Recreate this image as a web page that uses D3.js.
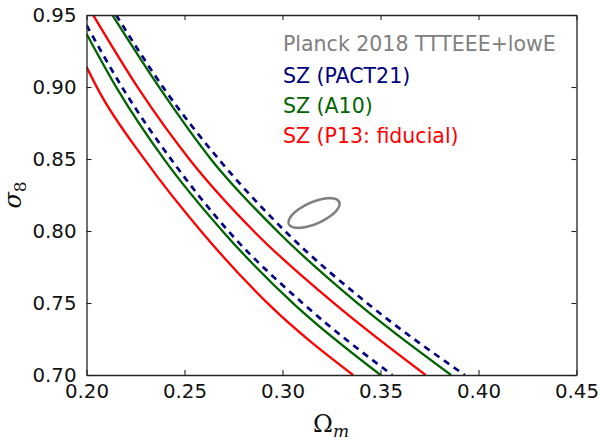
<!DOCTYPE html>
<html><head><meta charset="utf-8">
<script src="https://cdn.jsdelivr.net/npm/d3@7"></script>
<style>body{margin:0;background:#fff}svg{display:block}</style>
</head><body>
<svg id="c" width="600" height="443"></svg>
<script>
// ---- data ----
const xTicks = [0.20, 0.25, 0.30, 0.35, 0.40, 0.45];
const yTicks = [0.70, 0.75, 0.80, 0.85, 0.90, 0.95];
const xDomain = [0.20, 0.45];
const yDomain = [0.70, 0.95];

// [Omega_m, sigma_8]
const p13Low  = [[0.200,0.914],[0.206,0.898],[0.230,0.849],[0.259,0.799],[0.293,0.749],[0.336,0.700]];
const p13High = [[0.2034,0.950],[0.227,0.898],[0.253,0.849],[0.286,0.799],[0.327,0.749],[0.373,0.700]];
const a10Low  = [[0.200,0.937],[0.216,0.898],[0.240,0.849],[0.270,0.799],[0.306,0.749],[0.350,0.700]];
const a10High = [[0.2132,0.950],[0.238,0.898],[0.264,0.849],[0.298,0.799],[0.339,0.749],[0.386,0.700]];
const pactLow = [[0.200,0.943],[0.219,0.898],[0.2436,0.849],[0.273,0.799],[0.311,0.749],[0.356,0.700]];
const pactHigh= [[0.2151,0.950],[0.240,0.898],[0.268,0.849],[0.302,0.799],[0.344,0.749],[0.393,0.700]];

// Planck ellipse: centre, half-extents, correlation
const planckCentre = [0.3161, 0.8125];
const planckHalfExtent = [0.0130, 0.0103];
const planckCorr = 0.62;

const legendLabels = ["Planck 2018 TTTEEE+lowE", "SZ (PACT21)", "SZ (A10)", "SZ (P13: fiducial)"];
const legendColors = ["#808080", "#000080", "#006400", "#ff0000"];

// ---- layout ----
const L = 86.5, R = 576.5, T = 15, B = 375;
const svg = d3.select("#c");
const x = d3.scaleLinear().domain(xDomain).range([L, R]);
const y = d3.scaleLinear().domain(yDomain).range([B, T]);

svg.append("defs").append("clipPath").attr("id","clip")
  .append("rect").attr("x",L).attr("y",T).attr("width",R-L).attr("height",B-T);

const line = d3.line().x(d=>x(d[0])).y(d=>y(d[1])).curve(d3.curveMonotoneX);
const g = svg.append("g").attr("clip-path","url(#clip)");

const curves = [
  {d:p13Low, c:legendColors[3], dash:null, w:2.3},
  {d:p13High, c:legendColors[3], dash:null, w:2.3},
  {d:a10Low, c:legendColors[2], dash:null, w:2.3},
  {d:a10High, c:legendColors[2], dash:null, w:2.3},
  {d:pactLow, c:legendColors[1], dash:"6.5,5.5", w:2.7},
  {d:pactHigh, c:legendColors[1], dash:"6.5,5.5", w:2.7},
];
curves.forEach(cv=>{
  g.append("path").attr("d",line(cv.d)).attr("fill","none")
    .attr("stroke",cv.c).attr("stroke-width",cv.w)
    .attr("stroke-dasharray",cv.dash);
});

// ellipse
const ell = d3.range(0, 2*Math.PI+0.001, Math.PI/90).map(t=>[
  planckCentre[0] + planckHalfExtent[0]*Math.cos(t),
  planckCentre[1] + planckHalfExtent[1]*(planckCorr*Math.cos(t) + Math.sqrt(1-planckCorr*planckCorr)*Math.sin(t))
]);
g.append("path").attr("d", d3.line().x(d=>x(d[0])).y(d=>y(d[1]))(ell)+"Z")
  .attr("fill","none").attr("stroke",legendColors[0]).attr("stroke-width",2.6);

// axes (ticks inward on all four sides)
const fmt = d3.format(".2f");
const tickLen = 5;
const axB = d3.axisBottom(x).tickValues(xTicks).tickFormat(fmt).tickSizeInner(-tickLen).tickSizeOuter(0).tickPadding(9);
const axL = d3.axisLeft(y).tickValues(yTicks).tickFormat(fmt).tickSizeInner(-tickLen).tickSizeOuter(0).tickPadding(10);
const axT = d3.axisTop(x).tickValues(xTicks).tickFormat("").tickSizeInner(-tickLen).tickSizeOuter(0);
const axR = d3.axisRight(y).tickValues(yTicks).tickFormat("").tickSizeInner(-tickLen).tickSizeOuter(0);

function style(sel){
  sel.selectAll("path").attr("stroke","#222").attr("stroke-width",1.3);
  sel.selectAll("line").attr("stroke","#222").attr("stroke-width",1.1);
  sel.selectAll("text").attr("font-family","DejaVu Sans").attr("font-size",19.8).attr("fill","#111");
}
svg.append("g").attr("transform",`translate(0,${B})`).call(axB).call(style);
svg.append("g").attr("transform",`translate(${L},0)`).call(axL).call(style);
svg.append("g").attr("transform",`translate(0,${T})`).call(axT).call(style);
svg.append("g").attr("transform",`translate(${R},0)`).call(axR).call(style);

// legend text
const legY = [51, 83, 113, 143];
legendLabels.forEach((t,i)=>{
  svg.append("text").attr("x",283).attr("y",legY[i]).text(t)
    .attr("font-family","DejaVu Sans").attr("font-size",20.5).attr("fill",legendColors[i]);
});

// axis labels
const xl = svg.append("text").attr("x",331).attr("y",432).attr("text-anchor","middle")
  .attr("font-family","DejaVu Serif").attr("font-size",24).attr("fill","#111");
xl.append("tspan").text("Ω");
xl.append("tspan").attr("font-style","italic").attr("font-size",17).attr("dy",5).text("m");

const yl = svg.append("text").attr("transform","translate(21,195) rotate(-90)").attr("text-anchor","middle")
  .attr("font-family","DejaVu Serif").attr("font-size",24).attr("fill","#111");
yl.append("tspan").attr("font-style","italic").text("σ");
yl.append("tspan").attr("font-size",17).attr("dy",5).text("8");
</script>
</body></html>
